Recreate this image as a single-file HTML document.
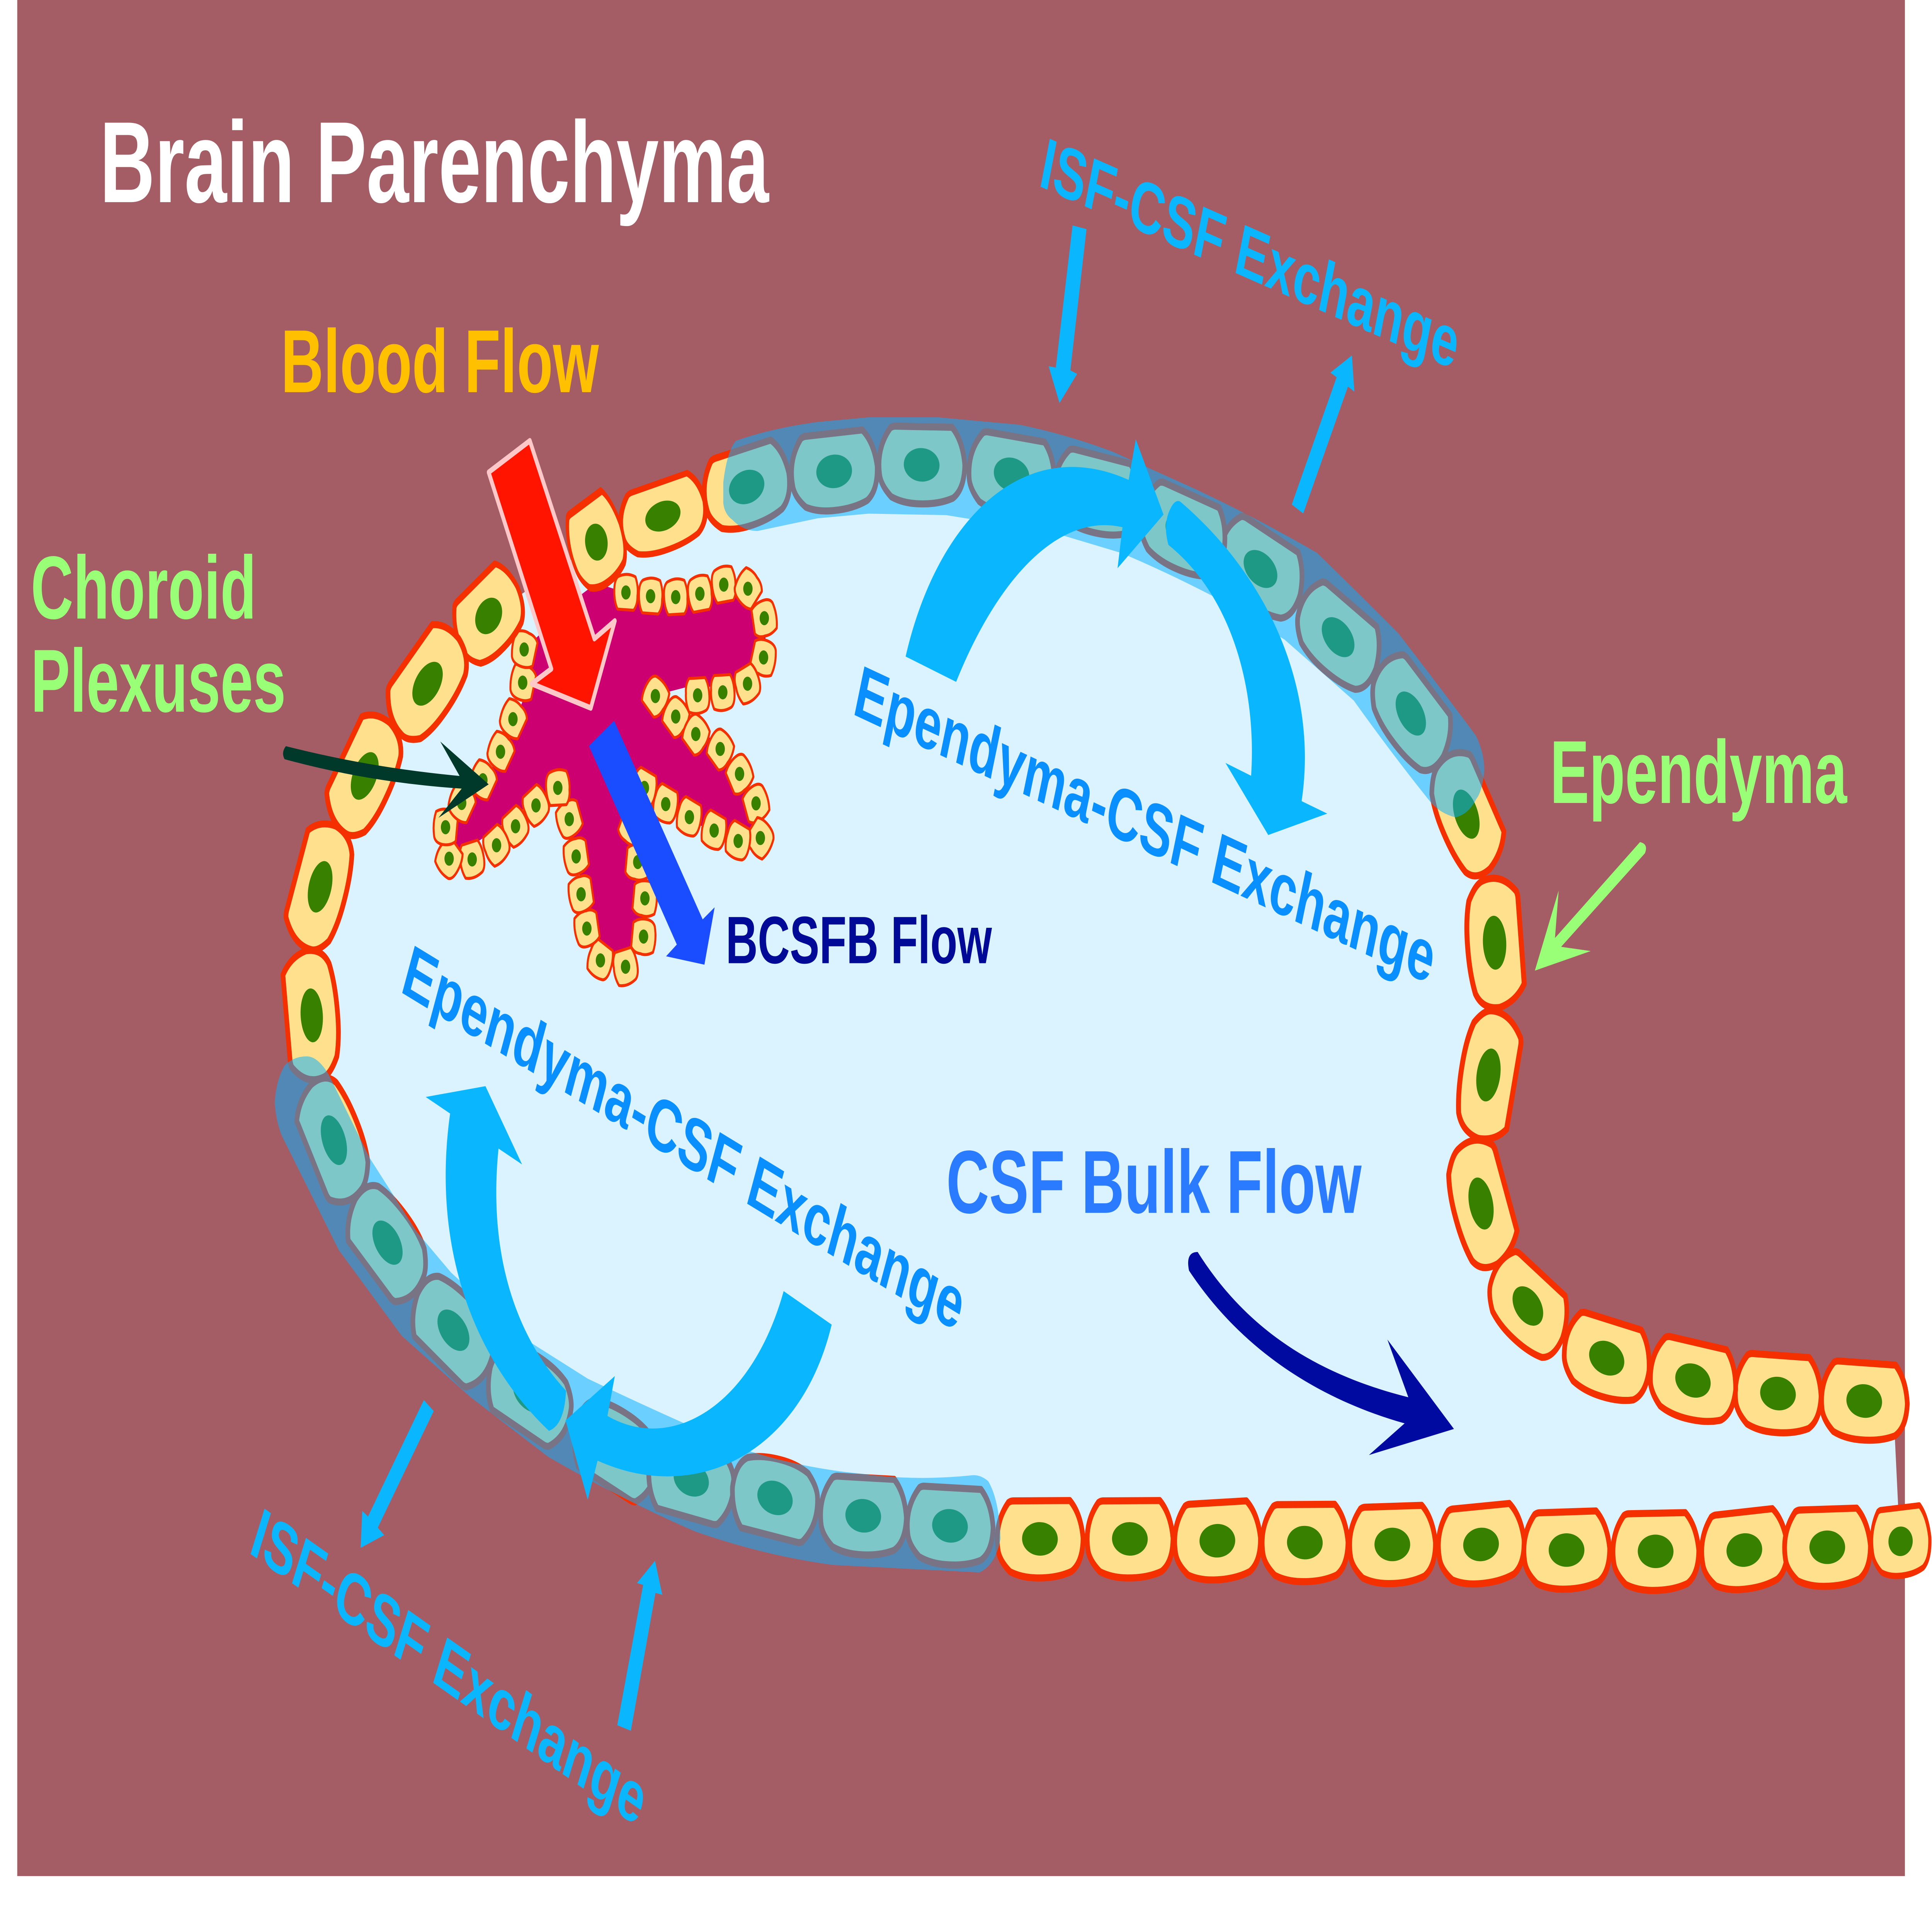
<!DOCTYPE html>
<html><head><meta charset="utf-8"><style>
html,body{margin:0;padding:0;background:#fff;width:100%;height:100%;overflow:hidden}
svg{display:block;width:100%;height:100%}
text{font-family:"Liberation Sans",Arial,sans-serif;font-weight:700}
</style></head><body>
<svg xmlns="http://www.w3.org/2000/svg" viewBox="0 0 1568 1028.96" preserveAspectRatio="none">
<defs>
<g id="c"><path d="M-26,-19 Q-24,-20 -22,-20 L24,-21 Q33,-14 35,-1 Q35,12 26,17 Q14,21 -3,21 Q-15,21 -24,18 Q-33,12 -34,6 Q-37,-8 -26,-19Z" fill="#FFE08C" stroke="#F53000" stroke-width="3.8" stroke-linejoin="round"/><ellipse cx="0" cy="0" rx="14.5" ry="9" fill="#388000"/></g>
<g id="s"><path d="M-7,-9 L6,-9.5 Q9,-6 9.5,0 Q10,6 7,8 Q0,11 -7,9 Q-10,4 -9.5,-1 Q-10,-6 -7,-9Z" fill="#FFE08C" stroke="#F53000" stroke-width="1.6" stroke-linejoin="round"/><circle cx="0" cy="0" r="3.8" fill="#388000"/></g>
</defs>
<rect width="1568" height="1028.96" fill="#fff"/>
<rect x="14" y="0" width="1532" height="1007" fill="#A45D65"/>
<!-- CSF -->
<path d="M606,262 L677,253 748,250 821,254 890,265 963,285 1023,305 1086,342 1145,383 1190,437 1213,506 1208,577 1202,646 1240,702 1304,729 1374,741 1443,748 1513,752 1537,760 1541,815 1543,827 1484,830 1415,832 1343,832 1272,832 1202,829 1130,829 1059,828 988,827 917,826 844,826 771,819 701,814 629,804 561,794 500,778 430,748 368,714 315,667 271,612 253,545 260,476 296,417 347,367 397,331 484,291 536,277Z" fill="#DAF3FF"/>
<!-- plexus body -->
<path d="M484,313 L498,316 610,318 622,335 620,355 606,368 556,369 527,374 585,400 612,430 618,447 597,452 533,432 519,461 526,500 507,518 487,514 469,466 457,432 452,421 411,441 370,460 360,446 382,428 411,401 428,369 428,347 470,320Z" fill="#CC0070"/>
<!-- small cells -->
<use href="#s" transform="translate(508,318) rotate(185)"/>
<use href="#s" transform="translate(528,320) rotate(185)"/>
<use href="#s" transform="translate(548.4,320.5) rotate(180)"/>
<use href="#s" transform="translate(568,318.7) rotate(175)"/>
<use href="#s" transform="translate(587.4,313.8) rotate(175)"/>
<use href="#s" transform="translate(607,316) rotate(135)"/>
<use href="#s" transform="translate(620.3,331.8) rotate(260)"/>
<use href="#s" transform="translate(619.7,352.9) rotate(290)"/>
<use href="#s" transform="translate(606.7,367) rotate(-20)"/>
<use href="#s" transform="translate(586.6,371.6)"/>
<use href="#s" transform="translate(566.2,373.2)"/>
<use href="#s" transform="translate(531.9,373.6) rotate(225)"/>
<use href="#s" transform="translate(548.4,384.6) rotate(225)"/>
<use href="#s" transform="translate(564.7,394) rotate(225)"/>
<use href="#s" transform="translate(584.5,402) rotate(225)"/>
<use href="#s" transform="translate(600.2,415.4) rotate(240)"/>
<use href="#s" transform="translate(613.6,431.2) rotate(250)"/>
<use href="#s" transform="translate(617.1,449.8) rotate(315)"/>
<use href="#s" transform="translate(599.1,451.4) rotate(24)"/>
<use href="#s" transform="translate(579.6,445.8) rotate(24)"/>
<use href="#s" transform="translate(559.5,438.6) rotate(24)"/>
<use href="#s" transform="translate(540.3,431.6) rotate(24)"/>
<use href="#s" transform="translate(523,422.9) rotate(24)"/>
<use href="#s" transform="translate(513,443.5) rotate(-60)"/>
<use href="#s" transform="translate(517.6,462.7) rotate(-80)"/>
<use href="#s" transform="translate(523.4,482.2) rotate(-80)"/>
<use href="#s" transform="translate(522.3,502.7) rotate(-80)"/>
<use href="#s" transform="translate(507.7,518.9) rotate(-10)"/>
<use href="#s" transform="translate(487.3,515.5) rotate(30)"/>
<use href="#s" transform="translate(476.3,498.4) rotate(80)"/>
<use href="#s" transform="translate(471.6,480) rotate(80)"/>
<use href="#s" transform="translate(467.6,459.7) rotate(80)"/>
<use href="#s" transform="translate(462,439.7) rotate(70)"/>
<use href="#s" transform="translate(452.7,422.9) rotate(180)"/>
<use href="#s" transform="translate(435,432.3) rotate(-30)"/>
<use href="#s" transform="translate(418.4,443.5) rotate(-30)"/>
<use href="#s" transform="translate(403,453.7) rotate(-30)"/>
<use href="#s" transform="translate(383.2,461.3) rotate(-10)"/>
<use href="#s" transform="translate(364.5,460.9) rotate(45)"/>
<use href="#s" transform="translate(361.6,444) rotate(100)"/>
<use href="#s" transform="translate(374.7,431) rotate(127)"/>
<use href="#s" transform="translate(391.9,418.8) rotate(127)"/>
<use href="#s" transform="translate(406.2,403.5) rotate(127)"/>
<use href="#s" transform="translate(416.3,386) rotate(127)"/>
<use href="#s" transform="translate(424.2,366.4) rotate(110)"/>
<use href="#s" transform="translate(425.4,348.6) rotate(110)"/>
<!-- large cells: bottom row -->
<use href="#c" transform="translate(844,826) rotate(1)"/>
<use href="#c" transform="translate(917,826) rotate(1)"/>
<use href="#c" transform="translate(988,827) rotate(-1)"/>
<use href="#c" transform="translate(1059,828) rotate(1)"/>
<use href="#c" transform="translate(1130,829)"/>
<use href="#c" transform="translate(1202,829) rotate(-2.5)"/>
<use href="#c" transform="translate(1271.4,832)"/>
<use href="#c" transform="translate(1343.7,832.7) rotate(.5)"/>
<use href="#c" transform="translate(1415.7,832) rotate(-3)"/>
<use href="#c" transform="translate(1483,830.5)"/>
<use href="#c" transform="translate(1542.5,827.3) rotate(-3) scale(.68,.88)"/>
<!-- right rise -->
<use href="#c" transform="translate(1513,752) rotate(4)"/>
<use href="#c" transform="translate(1443,748) rotate(4)"/>
<use href="#c" transform="translate(1374,741) rotate(10)"/>
<use href="#c" transform="translate(1304,729) rotate(13)"/>
<use href="#c" transform="translate(1240,701) rotate(33) scale(.94,1)"/>
<use href="#c" transform="translate(1202,646) rotate(69) scale(1,1.05)"/>
<use href="#c" transform="translate(1208,577) rotate(105.6) scale(1,1.05)"/>
<use href="#c" transform="translate(1213,506) rotate(85) scale(1,1.05)"/>
<use href="#c" transform="translate(1190,437) rotate(58)"/>
<!-- top teal -->
<use href="#c" transform="translate(1145,383) rotate(42.5)"/>
<use href="#c" transform="translate(1086,342) rotate(31)"/>
<use href="#c" transform="translate(1023,305.4) rotate(25)"/>
<use href="#c" transform="translate(960,285) rotate(18)"/>
<use href="#c" transform="translate(890,265) rotate(11)"/>
<use href="#c" transform="translate(821,254.7) rotate(8)"/>
<use href="#c" transform="translate(748,249.5) rotate(2)"/>
<use href="#c" transform="translate(677,253) rotate(-3)"/>
<use href="#c" transform="translate(606,261.4) rotate(-11)"/>
<!-- left arc -->
<use href="#c" transform="translate(538,277) rotate(-12) scale(1,.88)"/>
<use href="#c" transform="translate(484,291) rotate(-24) scale(.62,1.12)"/>
<use href="#c" transform="translate(396.6,330.6) rotate(-32) scale(.8,1)"/>
<use href="#c" transform="translate(347,367) rotate(-42)"/>
<use href="#c" transform="translate(296,416.5) rotate(-53)"/>
<use href="#c" transform="translate(259.8,476) rotate(-67)"/>
<use href="#c" transform="translate(253,545) rotate(-96)"/>
<!-- lower teal -->
<use href="#c" transform="translate(271,612) rotate(240)"/>
<use href="#c" transform="translate(314.5,667) rotate(223)"/>
<use href="#c" transform="translate(368,714) rotate(215)"/>
<use href="#c" transform="translate(430,748) rotate(205.5)"/>
<use href="#c" transform="translate(500,778) rotate(204.6)"/>
<use href="#c" transform="translate(561,794) rotate(192)"/>
<use href="#c" transform="translate(629,804) rotate(191)"/>
<use href="#c" transform="translate(700.6,813.6) rotate(3.4)"/>
<use href="#c" transform="translate(771,819) rotate(3.4)"/>
<!-- bands -->
<path d="M587,259 Q590,242 597.4,236.6 Q625,230 663.7,226.5 L705,224 761.4,224 827.6,228 Q865,233 903.6,242.6 L969.8,262.4 Q1020,278 1069,296.8 Q1105,320 1135,340 Q1170,370 1198,395 Q1205,405 1204.6,413.8 Q1203,425 1198,429 Q1192,437 1181.4,438.7 Q1170,437 1161.6,431 Q1130,405 1098.7,376 L1042.5,343.3 Q1015,332 989.6,321.8 Q950,308 910,296.8 L854,285.7 768,276.5 705,275.7 663.7,278.2 614.8,285 Q603,285 594.4,279 Q588,276 587,270Z" fill="#06B1FF" fill-opacity=".52"/>
<path d="M223,592 Q224,602 229,610 L275,671 326,717 382,750 445,782 Q505,805 564,822 Q620,835 676,840 L795,844 Q808,840 812,826 Q811,805 802,795 Q795,791 787,792 Q740,795 699,791 Q650,788 604,778 Q540,760 477,740 L422,717 366,683 338,661 300,621.5 267,577 Q258,567 249,567 Q238,567 231,572 Q224,580 223,592Z" fill="#06B1FF" fill-opacity=".52"/>
<!-- red arrow -->
<path d="M430,236.6 L396.6,253.5 447.5,359 431.5,367 479.5,380 499,333.3 482.4,342.8Z" fill="#FF1400" stroke="#FFC8C8" stroke-width="3" stroke-linejoin="round"/>
<!-- blue arrow -->
<path d="M498.4,386.9 L478,400.4 549.3,507 540.6,513.3 571.7,517.8 580,487 570.3,493.5Z" fill="#1A4DFF"/>
<!-- dark green arrow -->
<path d="M232,400.5 Q300,412 373,416.5 L357.3,398 396.6,421 355.8,439 374.7,423.3 Q300,420 231,407.5 Q228,404 232,400.5Z" fill="#00382A"/>
<!-- ependyma arrow -->
<path d="M1331,452 L1262,503.5 1265,478 1245.7,521 1291,510.5 1267,508.2 1335,458 Q1338,453 1331,452Z" fill="#99FF77"/>
<!-- dark blue curved arrow -->
<path d="M972,672 C1010,712 1065,737 1143,750 L1126,719 L1180,767 L1111,781 L1140,764 C1065,750 1005,722 965,682 Q962,672 972,672Z" fill="#000AA0"/>
<!-- big curved arrows -->
<g fill="#0AB7FF">
<path d="M735,352.4 C760,280 830,232 916,257.6 L921.8,235.8 944.3,276.2 907,305 911,283 C860,275 810,310 776,366Z"/>
<path d="M958,269.3 C1030,310 1070,370 1056.4,430 L1077.2,436.7 1029.3,448.2 994.6,409.5 1015.4,416.4 C1020,370 1000,320 948.3,292.5 Q943,280 951.6,271 Q955,268 958,269.3Z"/>
<path d="M394,583 L345.5,588.8 365.3,597.7 C350,670 385,730 445.5,768 Q458,765 459.4,746.5 C425,722 395,680 404.6,616.5 L423.7,625Z"/>
<path d="M636,693 L675,711 C650,780 565,808 485,784 L477,805 459,762.4 499,738.6 493,760 C545,780 610,755 636,693Z"/>
<!-- straight arrows -->
<path d="M870.5,121 L881.8,123 868.7,198.8 874.2,200.7 859.9,216.3 851.1,196.6 856.9,197.3Z"/>
<path d="M1048.4,270.8 L1057.7,275.6 1094,207.5 1099.2,210.2 1097.2,190.8 1079.8,200 1084.8,202.5Z"/>
<path d="M344,751.5 L352,757.4 306.6,820 311.8,824 292.7,830.8 294,811 298.7,814Z"/>
<path d="M501,926 L512,929 532,855 537.5,856 531.6,837.8 517,849.7 522,850.7Z"/>
</g>
<!-- text -->
<text x="81" y="108.5" font-size="62" fill="#fff" textLength="543" lengthAdjust="spacingAndGlyphs">Brain Parenchyma</text>
<text x="228" y="210.5" font-size="48" fill="#FFC000" textLength="258" lengthAdjust="spacingAndGlyphs">Blood Flow</text>
<text x="25" y="332" font-size="48" fill="#99FF77" textLength="183" lengthAdjust="spacingAndGlyphs">Choroid</text>
<text x="25" y="382" font-size="48" fill="#99FF77" textLength="207" lengthAdjust="spacingAndGlyphs">Plexuses</text>
<text x="1258" y="431" font-size="48" fill="#99FF77" textLength="241" lengthAdjust="spacingAndGlyphs">Ependyma</text>
<text x="589" y="517" font-size="36" fill="#000A96" textLength="216" lengthAdjust="spacingAndGlyphs">BCSFB Flow</text>
<text x="768" y="651" font-size="48" fill="#2A7BFF" textLength="337" lengthAdjust="spacingAndGlyphs">CSF Bulk Flow</text>
<text transform="translate(842,99.5) rotate(16.3)" font-size="39" fill="#0AB7FF" textLength="352" lengthAdjust="spacingAndGlyphs">ISF-CSF Exchange</text>
<text transform="translate(691,383) rotate(17.2)" font-size="39.7" fill="#0A8FFF" textLength="491" lengthAdjust="spacingAndGlyphs">Ependyma-CSF Exchange</text>
<text transform="translate(324,532) rotate(22)" font-size="39.7" fill="#0A8FFF" textLength="488" lengthAdjust="spacingAndGlyphs">Ependyma-CSF Exchange</text>
<text transform="translate(201,833) rotate(25)" font-size="39" fill="#0AB7FF" textLength="349" lengthAdjust="spacingAndGlyphs">ISF-CSF Exchange</text>
</svg>
</body></html>
